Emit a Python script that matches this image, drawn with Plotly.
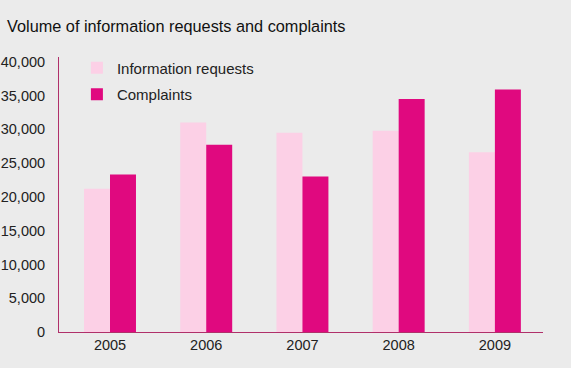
import plotly.graph_objects as go

years = ["2005", "2006", "2007", "2008", "2009"]
info_requests = [21200, 31000, 29500, 29800, 26600]
complaints = [23300, 27700, 23000, 34500, 35900]
y_ticks = [0, 5000, 10000, 15000, 20000, 25000, 30000, 35000, 40000]

BG = "#EBEBEB"
AXIS = "#B0306A"
TXT = "#222222"
FONT = "Liberation Sans, Arial, sans-serif"

fig = go.Figure()
fig.add_trace(go.Bar(name="Information requests", x=years, y=info_requests, legendgroup="info",
                     marker=dict(color="#FCD0E6", line=dict(width=0))))
fig.add_trace(go.Bar(name="Complaints", x=years, y=complaints, legendgroup="comp",
                     marker=dict(color="#E0097F", line=dict(width=0))))

fig.update_layout(
    width=571, height=368,
    paper_bgcolor=BG, plot_bgcolor=BG,
    margin=dict(l=59, r=28, t=57, b=36, autoexpand=False),
    barmode="group", bargap=0.46, bargroupgap=0,
    font=dict(family=FONT, size=14, color=TXT),
    title=dict(text="Volume of information requests and complaints",
               x=0, xref="container", xanchor="left", y=1, yref="container", yanchor="top",
               pad=dict(l=7, t=21),
               font=dict(family=FONT, size=16.3, color="#111111")),
    showlegend=True,
    legend=dict(x=0.037, y=1.02, xanchor="left", yanchor="top",
                bgcolor="rgba(0,0,0,0)", font=dict(family=FONT, size=15, color=TXT),
                traceorder="grouped", tracegroupgap=4, itemwidth=30),
    xaxis=dict(type="category", range=[-0.53, 4.5], showline=True, linecolor=AXIS,
               linewidth=1, ticks="", showgrid=False, zeroline=False, automargin=False,
               tickfont=dict(family=FONT, size=14.5, color=TXT)),
    yaxis=dict(range=[0, 40700], tickvals=y_ticks, tickformat=",d", showline=True,
               linecolor=AXIS, linewidth=1, ticks="", showgrid=False, zeroline=False,
               ticklabelstandoff=10, automargin=False,
               tickfont=dict(family=FONT, size=14.5, color=TXT)),
)

fig.write_html("out.html", config={"displayModeBar": False},
               post_script="document.body.style.margin='0';document.body.style.background='#EBEBEB';")
